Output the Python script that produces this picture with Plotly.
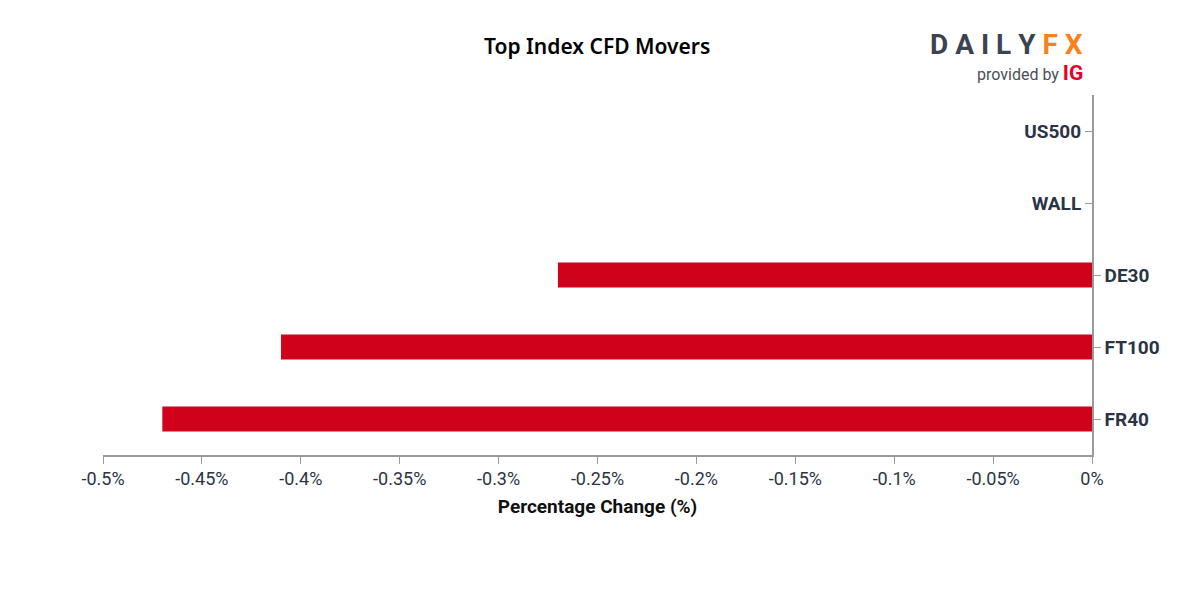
import plotly.graph_objects as go

categories = ["US500", "WALL", "DE30", "FT100", "FR40"]
values = [0.0, 0.0, -0.27, -0.41, -0.47]
x_tickvals = [-0.5, -0.45, -0.4, -0.35, -0.3, -0.25, -0.2, -0.15, -0.1, -0.05, 0]
x_ticktext = ["-0.5%", "-0.45%", "-0.4%", "-0.35%", "-0.3%", "-0.25%", "-0.2%",
              "-0.15%", "-0.1%", "-0.05%", "0%"]

cat_order = list(reversed(categories))
neg_cats = [c for c, v in zip(categories, values) if v < 0]
pos_cats = [c for c, v in zip(categories, values) if v >= 0]

AX = "#9a9a9a"
TXT = "#2b3445"

fig = go.Figure()
fig.add_trace(go.Bar(
    x=values, y=categories, orientation="h",
    marker=dict(color="#d0011b", line=dict(width=0)),
    width=0.35, hoverinfo="x+y", showlegend=False,
))
fig.add_trace(go.Scatter(
    x=[0 for _ in pos_cats], y=pos_cats, yaxis="y2", mode="markers",
    marker=dict(opacity=0), showlegend=False, hoverinfo="skip",
))

fig.update_layout(
    width=1200, height=600,
    margin=dict(l=95, r=116, t=87, b=153),
    paper_bgcolor="white", plot_bgcolor="white",
    title=dict(text="Top Index CFD Movers", x=0.491, xanchor="center",
               y=0.935, yanchor="middle",
               font=dict(family="Noto Sans", size=21, color="#000000", weight=600)),
    xaxis=dict(
        range=[-0.5, 0], tickmode="array", tickvals=x_tickvals, ticktext=x_ticktext,
        ticks="outside", ticklen=7, tickcolor=AX, tickwidth=1.3,
        showline=True, linecolor=AX, linewidth=1.5, showgrid=False, zeroline=False,
        tickfont=dict(family="Roboto", size=18, color=TXT),
        title=dict(text="<b>Percentage Change (%)</b>",
                   font=dict(family="Roboto", size=19, color="#111111"), standoff=11),
    ),
    yaxis=dict(
        type="category", categoryorder="array", categoryarray=cat_order,
        range=[-0.5, 4.5], side="right", anchor="x",
        tickmode="array", tickvals=neg_cats,
        ticks="outside", ticklen=7, tickcolor=AX, tickwidth=1.3,
        showline=True, linecolor=AX, linewidth=1.5, showgrid=False, zeroline=False,
        tickfont=dict(family="Roboto", size=19, color=TXT, weight="bold"),
    ),
    yaxis2=dict(
        type="category", categoryorder="array", categoryarray=cat_order,
        range=[-0.5, 4.5], overlaying="y", side="left", anchor="free", position=1,
        tickmode="array", tickvals=pos_cats,
        ticks="outside", ticklen=7, tickcolor=AX, tickwidth=1.3,
        showline=False, showgrid=False, zeroline=False,
        tickfont=dict(family="Roboto", size=19, color=TXT, weight="bold"),
    ),
)

fig.add_annotation(
    xref="paper", yref="paper", x=0.993, y=1.139, xanchor="right", yanchor="middle",
    text="<span style='color:#3c4350'>D A I L Y </span><span style='color:#f7821b'>F X</span>",
    showarrow=False, font=dict(family="Roboto", size=28, weight="bold"),
)
fig.add_annotation(
    xref="paper", yref="paper", x=0.993, y=1.061, xanchor="right", yanchor="middle",
    text="<span style='color:#4a4f58'>provided by </span><span style='color:#e4002b;font-size:21px'><b>IG</b></span>",
    showarrow=False, font=dict(family="Roboto", size=16),
)

fig.write_html("out.html")
